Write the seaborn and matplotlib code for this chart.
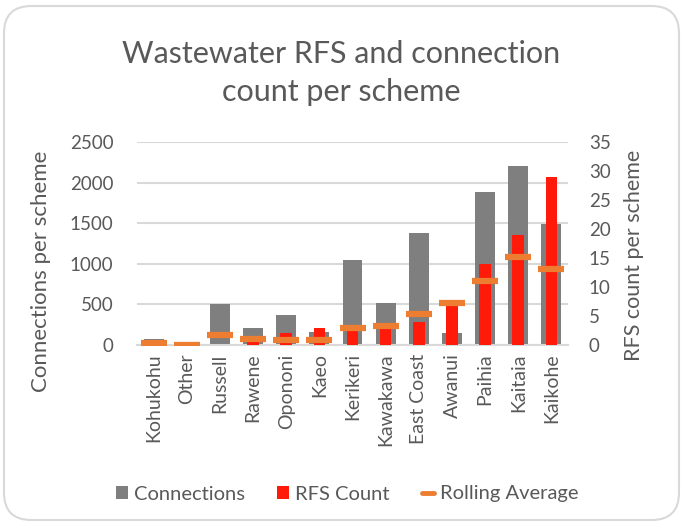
import matplotlib
matplotlib.use("Agg")
import matplotlib.pyplot as plt
from matplotlib.patches import FancyBboxPatch, Patch
from matplotlib.lines import Line2D
import seaborn as sns
import pandas as pd

# Scheme data
schemes = ["Kohukohu", "Other", "Russell", "Rawene", "Opononi", "Kaeo", "Kerikeri",
           "Kawakawa", "East Coast", "Awanui", "Paihia", "Kaitaia", "Kaikohe"]
connections = [70, 10, 500, 215, 365, 160, 1045, 520, 1380, 145, 1885, 2200, 1495]
rfs_count = [0, 0, 0, 1, 2, 3, 3, 3, 4, 7, 14, 19, 29]
rolling_avg = [0.3, 0.0, 1.7, 1.0, 0.9, 0.9, 3.0, 3.3, 5.3, 7.3, 11.1, 15.2, 13.1]

left_ticks = [0, 500, 1000, 1500, 2000, 2500]
right_ticks = [0, 5, 10, 15, 20, 25, 30, 35]

df = pd.DataFrame({"scheme": schemes, "connections": connections,
                   "rfs": rfs_count, "rolling": rolling_avg})

GRAY = "#7f7f7f"
RED = "#ff1a0a"
ORANGE = "#ed7d31"
TEXT = "#595959"
GRID = "#d9d9d9"

sns.set_theme(style="white")
plt.rcParams["font.family"] = ["Lato", "DejaVu Sans"]

W, H = 683, 526
fig = plt.figure(figsize=(W / 100, H / 100), dpi=100)
ax = fig.add_axes([137 / W, 1 - 345 / H, (568 - 137) / W, (345 - 142) / H])
ax2 = ax.twinx()

# Connections on the primary axis
sns.barplot(data=df, x="scheme", y="connections", color=GRAY, width=0.6,
            saturation=1, linewidth=0, edgecolor="none", ax=ax, zorder=2)
ax.set_ylim(0, 2500)
ax.set_yticks(left_ticks)
ax.yaxis.grid(True, color=GRID, linewidth=1.5, zorder=0)
ax.set_axisbelow(True)

# RFS count and its rolling average on the secondary axis
sns.barplot(data=df, x="scheme", y="rfs", color=RED, width=0.35,
            saturation=1, linewidth=0, edgecolor="none", ax=ax2, zorder=3)
sns.pointplot(data=df, x="scheme", y="rolling", color=ORANGE, linestyle="none",
              marker="_", markersize=19, markeredgewidth=4.5, ax=ax2, zorder=4)
ax2.set_ylim(0, 35)
ax2.set_yticks(right_ticks)

for a in (ax, ax2):
    for s in a.spines.values():
        s.set_visible(False)
    a.tick_params(length=0, colors=TEXT, labelsize=13.5)
    a.set_xlabel("")
    a.set_ylabel("")
ax.spines["bottom"].set_visible(True)
ax.spines["bottom"].set_color(GRID)
ax.spines["bottom"].set_linewidth(1.5)

ax.set_xticks(range(len(schemes)))
ax.set_xticklabels(schemes, rotation=90, color=TEXT, fontsize=14)
ax.tick_params(axis="x", pad=6)
ax.tick_params(axis="y", pad=17)
ax2.tick_params(axis="y", pad=15)

ax.set_xlim(-0.5, len(schemes) - 0.5)

# Axis titles
fig.text(41 / W, 1 - 271 / H, "Connections per scheme", rotation=90,
         ha="center", va="center", color=TEXT, fontsize=16)
fig.text(634 / W, 1 - 255 / H, "RFS count per scheme", rotation=90,
         ha="center", va="center", color=TEXT, fontsize=15.5)

# Title
fig.text(341 / W, 1 - 73 / H, "Wastewater RFS and connection\ncount per scheme",
         ha="center", va="center", color=TEXT, fontsize=22,
         linespacing=1.45)

# Legend
handles = [Patch(facecolor=GRAY, edgecolor="none", label="Connections"),
           Patch(facecolor=RED, edgecolor="none", label="RFS Count"),
           Line2D([0], [0], color=ORANGE, linewidth=3.5, label="Rolling Average")]
leg = fig.legend(handles=handles, loc="center", bbox_to_anchor=(347 / W, 1 - 494 / H),
                 ncol=3, frameon=False, fontsize=14.5, handlelength=0.6,
                 handleheight=0.6, handletextpad=0.3, columnspacing=1.6)
for t in leg.get_texts():
    t.set_color(TEXT)

# Chart area frame
frame = FancyBboxPatch((4 / W, 6 / H), (W - 8) / W, (H - 12) / H,
                       boxstyle="round,pad=0,rounding_size=0.04",
                       transform=fig.transFigure, facecolor="none",
                       edgecolor="#d9d9d9", linewidth=1.5, mutation_aspect=W / H)
fig.patches.append(frame)

fig.savefig("out.png", dpi=100, facecolor="white")
